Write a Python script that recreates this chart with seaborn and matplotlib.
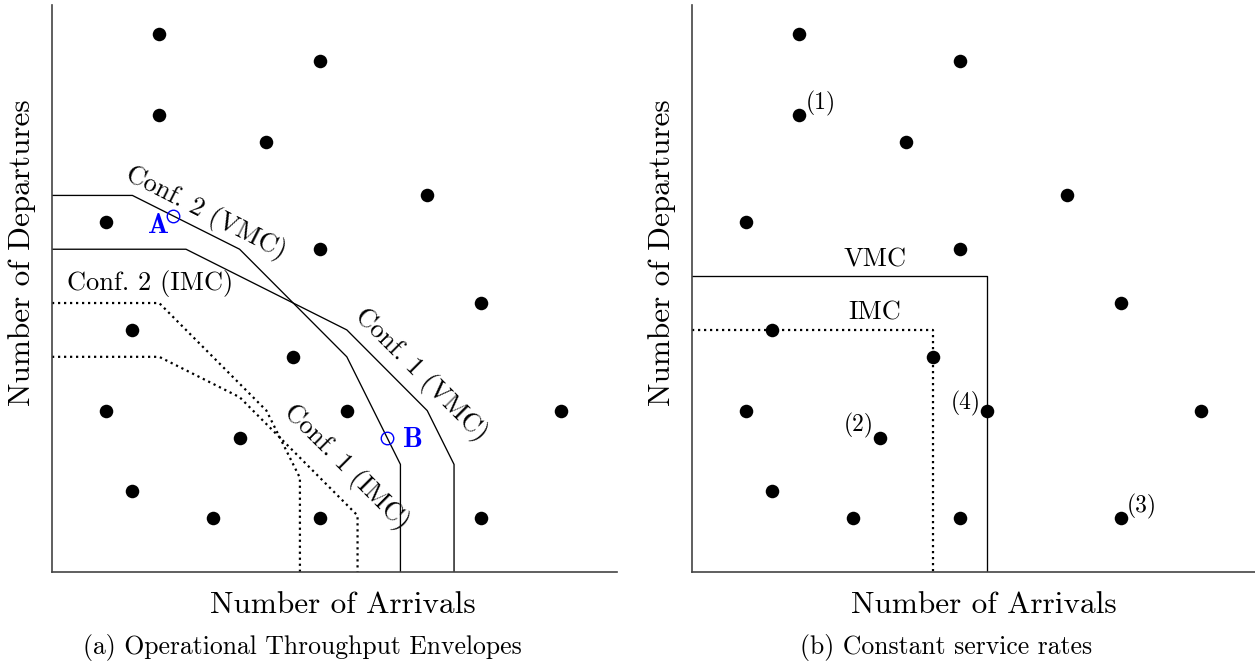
import matplotlib
matplotlib.use("Agg")
import matplotlib.pyplot as plt
import seaborn as sns
import pandas as pd

# Flight-count grid points (arrivals, departures)
arrivals = [4, 10, 4, 8, 14, 2, 10, 16, 3, 9, 2, 11, 19, 7, 3, 6, 10, 16]
departures = [20, 19, 17, 16, 14, 13, 12, 10, 9, 8, 6, 6, 6, 5, 3, 2, 2, 2]

# Operational throughput envelopes (panel a)
conf2_vmc_x = [0, 3, 7, 11, 13, 13]
conf2_vmc_y = [14, 14, 12, 8, 4, 0]
conf1_vmc_x = [0, 5, 11, 14, 15, 15]
conf1_vmc_y = [12, 12, 9, 6, 4, 0]
conf2_imc_x = [0, 4, 8, 9.25, 9.25]
conf2_imc_y = [10, 10, 6, 3.5, 0]
conf1_imc_x = [0, 4, 7, 11.4, 11.4]
conf1_imc_y = [8, 8, 6.5, 2.1, 0]

# Operating points on the envelopes
point_a = (4.5, 13.25)
point_b = (12.5, 5)

# Constant service-rate boxes (panel b)
vmc_box_x = [0, 11, 11]
vmc_box_y = [11, 11, 0]
imc_box_x = [0, 9, 9]
imc_box_y = [9, 9, 0]

sns.set_style("white")
plt.rcParams["font.family"] = ["cmr10", "DejaVu Serif"]
plt.rcParams["axes.formatter.use_mathtext"] = True
plt.rcParams["mathtext.fontset"] = "cm"
plt.rcParams["text.color"] = "black"
plt.rcParams["axes.labelcolor"] = "black"

W, H = 1255, 665
fig = plt.figure(figsize=(W / 100, H / 100), dpi=100)

ax_l = fig.add_axes([52 / W, (H - 572) / H, 565 / W, 567 / H])
ax_r = fig.add_axes([692 / W, (H - 572) / H, 565 / W, 567 / H])

pts = pd.DataFrame({"arr": arrivals, "dep": departures})

SOLID = dict(color="black", linewidth=0.95)
DOTTED = dict(color="black", linewidth=1.6, linestyle=(0, (1, 1.7)))


def envelope(ax, xs, ys, style):
    df = pd.DataFrame({"x": xs, "y": ys})
    sns.lineplot(data=df, x="x", y="y", sort=False, estimator=None, ax=ax, **style)


for ax in (ax_l, ax_r):
    sns.scatterplot(data=pts, x="arr", y="dep", ax=ax, s=95, color="black",
                    edgecolor="black", linewidth=0, zorder=5)
    ax.set_xlim(0, 21.08)
    ax.set_ylim(0, 21.08)
    ax.set_xticks([])
    ax.set_yticks([])
    ax.set_xlabel("")
    ax.set_ylabel("")
    for side in ("top", "right"):
        ax.spines[side].set_visible(False)
    for side in ("left", "bottom"):
        ax.spines[side].set_color("#444444")
        ax.spines[side].set_linewidth(1.2)

# Panel (a)
envelope(ax_l, conf2_vmc_x, conf2_vmc_y, SOLID)
envelope(ax_l, conf1_vmc_x, conf1_vmc_y, SOLID)
envelope(ax_l, conf2_imc_x, conf2_imc_y, DOTTED)
envelope(ax_l, conf1_imc_x, conf1_imc_y, DOTTED)

ax_l.plot(*point_a, marker="o", markersize=9, markerfacecolor="none",
          markeredgecolor="#0000ff", markeredgewidth=1.0, zorder=6)
ax_l.plot(*point_b, marker="o", markersize=9, markerfacecolor="none",
          markeredgecolor="#0000ff", markeredgewidth=1.0, zorder=6)
ax_l.text(3.96, 12.86, "A", color="#0000ff", family="cmb10", fontsize=20,
          ha="center", va="center")
ax_l.text(13.47, 4.91, "B", color="#0000ff", family="cmb10", fontsize=20,
          ha="center", va="center")

LBL = 19
ax_l.text(5.75, 13.35, "Conf. 2 (VMC)", rotation=-27, fontsize=LBL,
          ha="center", va="center")
ax_l.text(3.66, 10.74, "Conf. 2 (IMC)", fontsize=LBL, ha="center", va="center")
ax_l.text(13.77, 7.32, "Conf. 1 (VMC)", rotation=-45, fontsize=LBL,
          ha="center", va="center")
ax_l.text(10.97, 3.9, "Conf. 1 (IMC)", rotation=-45, fontsize=LBL,
          ha="center", va="center")

# Panel (b)
envelope(ax_r, vmc_box_x, vmc_box_y, SOLID)
envelope(ax_r, imc_box_x, imc_box_y, DOTTED)
ax_r.text(6.83, 11.6, "VMC", fontsize=LBL, ha="center", va="center")
ax_r.text(6.83, 9.63, "IMC", fontsize=LBL, ha="center", va="center")

ANN = 17
ax_r.text(4.81, 17.43, "(1)", fontsize=ANN, ha="center", va="center")
ax_r.text(6.23, 5.43, "(2)", fontsize=ANN, ha="center", va="center")
ax_r.text(16.79, 2.45, "(3)", fontsize=ANN, ha="center", va="center")
ax_r.text(10.22, 6.25, "(4)", fontsize=ANN, ha="center", va="center")

# Axis titles and sub-captions
AX = 22.5
fig.text(343 / W, 1 - 613 / H, "Number of Arrivals", fontsize=AX,
         ha="center", va="baseline")
fig.text(984 / W, 1 - 613 / H, "Number of Arrivals", fontsize=AX,
         ha="center", va="baseline")
fig.text(22 / W, 1 - 253 / H, "Number of Departures", fontsize=AX,
         rotation=90, ha="center", va="center")
fig.text(662 / W, 1 - 253 / H, "Number of Departures", fontsize=AX,
         rotation=90, ha="center", va="center")

CAP = 18.5
fig.text(302 / W, 1 - 654 / H, "(a) Operational Throughput Envelopes",
         fontsize=CAP, ha="center", va="baseline")
fig.text(946 / W, 1 - 654 / H, "(b) Constant service rates",
         fontsize=CAP, ha="center", va="baseline")

fig.savefig("out.png", dpi=100, facecolor="white")
